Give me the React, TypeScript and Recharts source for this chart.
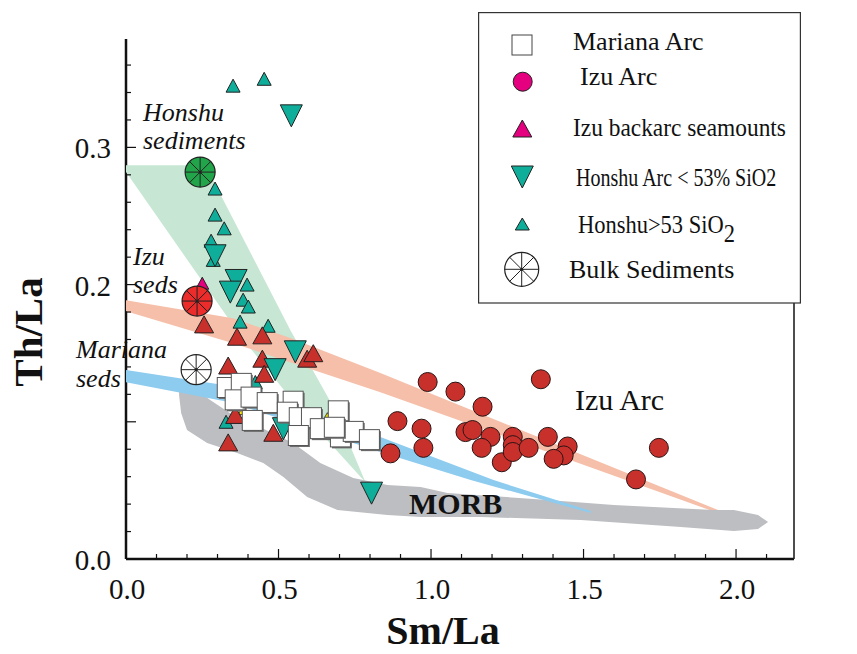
import React from 'react';
import { ScatterChart, Scatter, XAxis, YAxis, Legend, ReferenceDot } from 'recharts';

type Pt = [number, number];

const SERIF = '"Liberation Serif", "Times New Roman", Times, serif';

// axis ticks
const xTicks = [0, 0.1, 0.2, 0.3, 0.4, 0.5, 0.6, 0.7, 0.8, 0.9, 1.0, 1.1, 1.2, 1.3, 1.4, 1.5, 1.6, 1.7, 1.8, 1.9, 2.0, 2.1];
const xMajor = [0, 0.5, 1.0, 1.5, 2.0];
const xLabels = ['0.0', '0.5', '1.0', '1.5', '2.0'];
const yTicks = [0, 0.02, 0.04, 0.06, 0.08, 0.1, 0.12, 0.14, 0.16, 0.18, 0.2, 0.22, 0.24, 0.26, 0.28, 0.3, 0.32, 0.34, 0.36];
const yMajor = [0, 0.1, 0.2, 0.3];
const yLabels = ['0.0', '', '0.2', '0.3'];

// samples (Sm/La, Th/La)
const marianaArc: Pt[] = [
  [0.332, 0.125], [0.378, 0.128], [0.358, 0.116], [0.41, 0.118], [0.463, 0.114], [0.548, 0.115],
  [0.529, 0.107], [0.414, 0.101], [0.568, 0.103], [0.608, 0.103], [0.696, 0.108], [0.637, 0.095],
  [0.565, 0.09], [0.703, 0.089], [0.745, 0.093], [0.798, 0.087], [0.683, 0.096],
];
const izuArc: Pt[] = [
  [0.989, 0.129], [1.08, 0.122], [1.169, 0.111], [1.36, 0.131], [0.89, 0.1005], [0.969, 0.095],
  [0.975, 0.081], [0.867, 0.077], [1.113, 0.0925], [1.136, 0.094], [1.195, 0.089], [1.166, 0.081],
  [1.232, 0.0705], [1.268, 0.089], [1.268, 0.083], [1.268, 0.078], [1.32, 0.081], [1.383, 0.089],
  [1.448, 0.082], [1.435, 0.0755], [1.402, 0.073], [1.747, 0.081], [1.672, 0.058],
];
const izuBackarc: Pt[] = [
  [0.256, 0.171], [0.364, 0.162], [0.447, 0.163], [0.594, 0.146], [0.614, 0.15], [0.447, 0.146],
  [0.335, 0.141], [0.453, 0.135], [0.358, 0.105], [0.335, 0.085], [0.483, 0.092],
];
const izuBackarcPink: Pt[] = [[0.25, 0.201]];
const honshuMafic: Pt[] = [
  [0.542, 0.323], [0.292, 0.221], [0.361, 0.203], [0.342, 0.1945], [0.555, 0.151], [0.489, 0.138],
  [0.516, 0.095], [0.805, 0.048],
];
const honshuFelsic: Pt[] = [
  [0.351, 0.345], [0.453, 0.35], [0.292, 0.27], [0.292, 0.251], [0.322, 0.241], [0.279, 0.232],
  [0.286, 0.218], [0.397, 0.2], [0.384, 0.189], [0.401, 0.184], [0.374, 0.173], [0.466, 0.17],
  [0.328, 0.1], [0.424, 0.129],
];
const otherSamples: Pt[] = [[0.384, 0.1085], [0.66, 0.1034]];
const sedNames = ['Honshu', 'Izu', 'Mariana'];
const sedPoints: Pt[] = [[0.243, 0.282], [0.233, 0.188], [0.23, 0.138]];

// mixing fields
const honshuField: Pt[] = [
  [0, 0.287], [0.266, 0.287], [0.289, 0.2746], [0.539, 0.1668], [0.686, 0.1085], [0.785, 0.056],
  [0.571, 0.1085], [0.374, 0.163], [0, 0.282],
];
const izuField: Pt[] = [
  [0, 0.1886], [0.351, 0.1755], [0.539, 0.161], [0.834, 0.1355], [1.941, 0.0357],
  [1.941, 0.0335], [0.834, 0.1216], [0.351, 0.1573], [0, 0.1806],
];
const marianaField: Pt[] = [
  [0, 0.1377], [0.3415, 0.126], [0.834, 0.0889], [1.205, 0.0575], [1.524, 0.035],
  [1.524, 0.0335], [1.13, 0.0575], [0.834, 0.0779], [0.3415, 0.1143], [0, 0.1289],
];
const morbField: Pt[] = [
  [0.174, 0.126], [0.233, 0.1231], [0.276, 0.1158], [0.3415, 0.1063], [0.44, 0.0961], [0.548, 0.0845],
  [0.637, 0.0699], [0.745, 0.059], [0.857, 0.0539], [0.966, 0.0524], [1.054, 0.0481], [1.383, 0.043],
  [1.599, 0.0393], [1.928, 0.0357], [1.993, 0.0357], [2.072, 0.032], [2.105, 0.027],
  [2.072, 0.0218], [1.993, 0.0204], [1.819, 0.0233], [1.491, 0.0284], [1.163, 0.0306], [0.966, 0.0306],
  [0.857, 0.032], [0.693, 0.0357], [0.594, 0.0452], [0.516, 0.0597], [0.45, 0.0699], [0.3645, 0.0772],
  [0.266, 0.0845], [0.2, 0.094], [0.181, 0.1063], [0.174, 0.1194],
];

const notes = [
  { text: 'Honshu', x: 0.0557, y: 0.3192, kind: 'italic' },
  { text: 'sediments', x: 0.0557, y: 0.2986, kind: 'italic' },
  { text: 'Izu', x: 0.023, y: 0.2143, kind: 'italic' },
  { text: 'seds', x: 0.023, y: 0.1939, kind: 'italic' },
  { text: 'Mariana', x: -0.164, y: 0.1463, kind: 'italic' },
  { text: 'seds', x: -0.164, y: 0.1251, kind: 'italic' },
  { text: 'Izu Arc', x: 1.472, y: 0.1086, kind: 'plain' },
  { text: 'MORB', x: 0.928, y: 0.0328, kind: 'bold' },
];

const toXY = (pts: Pt[]) => pts.map(([x, y]) => ({ x, y }));

const TEAL = '#0fae9b';
const RED = '#c8302b';
const PINK = '#e4007f';
const sedFill: Record<string, string> = { Honshu: '#22a54a', Izu: '#ec2b2b', Mariana: '#ffffff' };

const triUp = (cx: number, cy: number, w: number, h: number, fill: string, sw = 1) => (
  <polygon
    points={`${cx},${cy - h / 2} ${cx + w / 2},${cy + h / 2} ${cx - w / 2},${cy + h / 2}`}
    fill={fill}
    stroke="#222"
    strokeWidth={sw}
  />
);
const triDown = (cx: number, cy: number, w: number, h: number, fill: string) => (
  <polygon
    points={`${cx - w / 2},${cy - h / 2} ${cx + w / 2},${cy - h / 2} ${cx},${cy + h / 2}`}
    fill={fill}
    stroke="#222"
    strokeWidth={1}
  />
);
const wheel = (cx: number, cy: number, r: number, fill: string) => {
  const spokes = [0, 45, 90, 135].map(a => {
    const t = (a * Math.PI) / 180;
    return (
      <line key={a} x1={cx - r * Math.cos(t)} y1={cy - r * Math.sin(t)} x2={cx + r * Math.cos(t)} y2={cy + r * Math.sin(t)} stroke="#222" strokeWidth={1} />
    );
  });
  return (
    <g>
      <circle cx={cx} cy={cy} r={r} fill={fill} stroke="#222" strokeWidth={1.2} />
      {spokes}
      <circle cx={cx} cy={cy} r={1.6} fill="#222" />
    </g>
  );
};

const noShape = () => <g />;
const fieldPath = (fill: string) => (p: any) => {
  const pts = (p.points || []) as { x: number; y: number }[];
  if (!pts.length) return <g />;
  const d = pts.map((q, i) => `${i ? 'L' : 'M'}${q.x},${q.y}`).join(' ') + ' Z';
  return <path d={d} fill={fill} stroke="none" />;
};

const isIn = (list: number[], v: number) => list.findIndex(t => Math.abs(t - v) < 1e-6);

const XTick = (props: any) => {
  const { x, y, payload } = props;
  const i = isIn(xMajor, payload.value);
  const len = i >= 0 ? 10 : 5;
  return (
    <g>
      <line x1={x} y1={y} x2={x} y2={y - len} stroke="#111" strokeWidth={1.2} />
      {i >= 0 && (
        <text x={x + 1} y={y + 40} textAnchor="middle" fontSize={29} fontFamily={SERIF} fill="#111">
          {xLabels[i]}
        </text>
      )}
    </g>
  );
};

const YTick = (props: any) => {
  const { x, y, payload } = props;
  const i = isIn(yMajor, payload.value);
  const len = i >= 0 ? 10 : 5;
  return (
    <g>
      <line x1={x} y1={y} x2={x + len} y2={y} stroke="#111" strokeWidth={1.2} />
      {i >= 0 && yLabels[i] && (
        <text x={x - 15} y={y + 1} textAnchor="end" dominantBaseline="central" fontSize={29} fontFamily={SERIF} fill="#111">
          {yLabels[i]}
        </text>
      )}
    </g>
  );
};

const YTickRight = (props: any) => {
  const { x, y, payload } = props;
  const len = isIn(yMajor, payload.value) >= 0 ? 10 : 5;
  return <line x1={x} y1={y} x2={x - len} y2={y} stroke="#111" strokeWidth={1.2} />;
};

// the long legend entries are set condensed in the original
const legendItems = [
  { label: 'Mariana Arc', tx: 95, ty: 38, sx: 1, icon: () => <rect x={34} y={23} width={20} height={20} fill="#fff" stroke="#444" strokeWidth={1} /> },
  { label: 'Izu Arc', tx: 102, ty: 73, sx: 1, icon: () => <circle cx={44.7} cy={69.7} r={9.5} fill={PINK} stroke="#222" strokeWidth={1} /> },
  { label: 'Izu backarc seamounts', tx: 95, ty: 124, sx: 0.9, icon: () => triUp(44.3, 116.5, 19, 17, PINK) },
  { label: 'Honshu Arc < 53% SiO2', tx: 98, ty: 174, sx: 0.77, icon: () => triDown(44.3, 165, 22, 22, TEAL) },
  { label: 'Honshu>53 SiO', sub: '2', tx: 100, ty: 221, sx: 0.865, icon: () => triUp(44.3, 212, 14, 12, TEAL) },
  { label: 'Bulk Sediments', tx: 91, ty: 266, sx: 1, icon: () => wheel(43.7, 257.3, 17, '#fff') },
];

const LegendBox = () => (
  <svg width={323} height={292} style={{ display: 'block' }}>
    <rect x={0.6} y={0.6} width={321.8} height={290.4} fill="#fff" stroke="#333" strokeWidth={1.2} />
    {legendItems.map(it => (
      <g key={it.label}>
        {it.icon()}
        <g transform={`translate(${it.tx} ${it.ty}) scale(${it.sx} 1)`}>
          <text x={0} y={0} fontSize={26} fontFamily={SERIF} fill="#111">
            {it.label}
            {it.sub && <tspan dy={9}>{it.sub}</tspan>}
          </text>
        </g>
      </g>
    ))}
  </svg>
);

const noteShape = (n: (typeof notes)[number]) => (p: any) => (
  <text
    x={p.cx}
    y={p.cy}
    fontFamily={SERIF}
    fontSize={n.kind === 'italic' ? 26 : 30}
    fontStyle={n.kind === 'italic' ? 'italic' : 'normal'}
    fontWeight={n.kind === 'bold' ? 'bold' : 'normal'}
    fill="#111"
  >
    {n.text}
  </text>
);

export default function App() {
  return (
    <div style={{ position: 'absolute', left: 0, top: 0, width: 857, height: 654, background: '#fff' }}>
      <ScatterChart width={857} height={654} margin={{ top: 39, right: 0, bottom: 0, left: 0 }}>
        <XAxis
          type="number"
          dataKey="x"
          domain={[0, 2.19]}
          ticks={xTicks}
          interval={0}
          height={95}
          tickSize={0}
          tickMargin={0}
          tickLine={false}
          tick={(p: any) => <XTick {...p} />}
          axisLine={{ stroke: '#111', strokeWidth: 2.5 }}
          label={{
            content: (p: any) => (
              <text x={p.viewBox.x + 317} y={p.viewBox.y + 85} textAnchor="middle" fontSize={40} fontWeight="bold" fontFamily={SERIF} fill="#111">
                Sm/La
              </text>
            ),
          }}
        />
        <XAxis xAxisId="t" orientation="top" type="number" domain={[0, 2.19]} height={0} tick={false} tickLine={false} axisLine={{ stroke: '#222', strokeWidth: 1.6 }} />
        <YAxis
          type="number"
          dataKey="y"
          domain={[0, 0.379]}
          ticks={yTicks}
          interval={0}
          width={126}
          tickSize={0}
          tickMargin={0}
          tickLine={false}
          tick={(p: any) => <YTick {...p} />}
          axisLine={{ stroke: '#111', strokeWidth: 2.5 }}
          label={{
            content: (p: any) => (
              <text
                x={42}
                y={p.viewBox.y + 293}
                transform={`rotate(-90 42 ${p.viewBox.y + 293})`}
                textAnchor="middle"
                fontSize={41}
                fontWeight="bold"
                fontFamily={SERIF}
                fill="#111"
              >
                Th/La
              </text>
            ),
          }}
        />
        <YAxis
          yAxisId="r"
          orientation="right"
          type="number"
          domain={[0, 0.379]}
          ticks={yTicks}
          interval={0}
          width={63}
          tickSize={0}
          tickMargin={0}
          tickLine={false}
          tick={(p: any) => <YTickRight {...p} />}
          axisLine={{ stroke: '#222', strokeWidth: 1.6 }}
        />

        <Scatter data={toXY(honshuField)} line={fieldPath('#c7e7d4')} shape={noShape} legendType="none" isAnimationActive={false} />
        <Scatter data={toXY(izuField)} line={fieldPath('#f5bfa9')} shape={noShape} legendType="none" isAnimationActive={false} />
        <Scatter data={toXY(morbField)} line={fieldPath('#bdbec2')} shape={noShape} legendType="none" isAnimationActive={false} />
        <Scatter data={toXY(marianaField)} line={fieldPath('#8dcbef')} shape={noShape} legendType="none" isAnimationActive={false} />

        <Scatter
          name="Honshu>53 SiO2"
          data={toXY(honshuFelsic)}
          shape={(p: any) => triUp(p.cx, p.cy, 14, 13, TEAL)}
          isAnimationActive={false}
        />
        <Scatter data={toXY(otherSamples)} shape={(p: any) => triUp(p.cx, p.cy, 10, 9, '#f3e200', 0.8)} legendType="none" isAnimationActive={false} />
        <Scatter
          name="Izu backarc seamounts"
          data={toXY(izuBackarc)}
          shape={(p: any) => triUp(p.cx, p.cy, 19, 17, RED)}
          isAnimationActive={false}
        />
        <Scatter
          name="Honshu Arc < 53% SiO2"
          data={toXY(honshuMafic)}
          shape={(p: any) => triDown(p.cx, p.cy, 22, 22, TEAL)}
          isAnimationActive={false}
        />
        <Scatter
          name="Mariana Arc"
          data={toXY(marianaArc)}
          shape={(p: any) => (
            <g>
              <rect x={p.cx - 8.5} y={p.cy - 8.5} width={20} height={20} fill="#6d6d6d" />
              <rect x={p.cx - 10} y={p.cy - 10} width={20} height={20} fill="#fff" stroke="#555" strokeWidth={1} />
            </g>
          )}
          isAnimationActive={false}
        />
        <Scatter
          name="Izu Arc"
          data={toXY(izuArc)}
          shape={(p: any) => <circle cx={p.cx} cy={p.cy} r={9.5} fill={RED} stroke="#2a1414" strokeWidth={1} />}
          isAnimationActive={false}
        />
        <Scatter data={toXY(izuBackarcPink)} shape={(p: any) => triUp(p.cx, p.cy, 13, 12, PINK)} legendType="none" isAnimationActive={false} />
        <Scatter
          name="Bulk Sediments"
          data={sedPoints.map(([x, y], i) => ({ x, y, name: sedNames[i] }))}
          shape={(p: any) => wheel(p.cx, p.cy, 15, sedFill[p.payload?.name ?? p.name] || '#fff')}
          isAnimationActive={false}
        />

        {notes.map(n => (
          <ReferenceDot key={n.text + n.y} x={n.x} y={n.y} r={1} ifOverflow="visible" shape={noteShape(n)} />
        ))}

        <Legend
          layout="vertical"
          align="center"
          verticalAlign="middle"
          content={() => <LegendBox />}
          wrapperStyle={{ left: 478, top: 12, width: 323, height: 292 }}
        />
      </ScatterChart>
    </div>
  );
}
